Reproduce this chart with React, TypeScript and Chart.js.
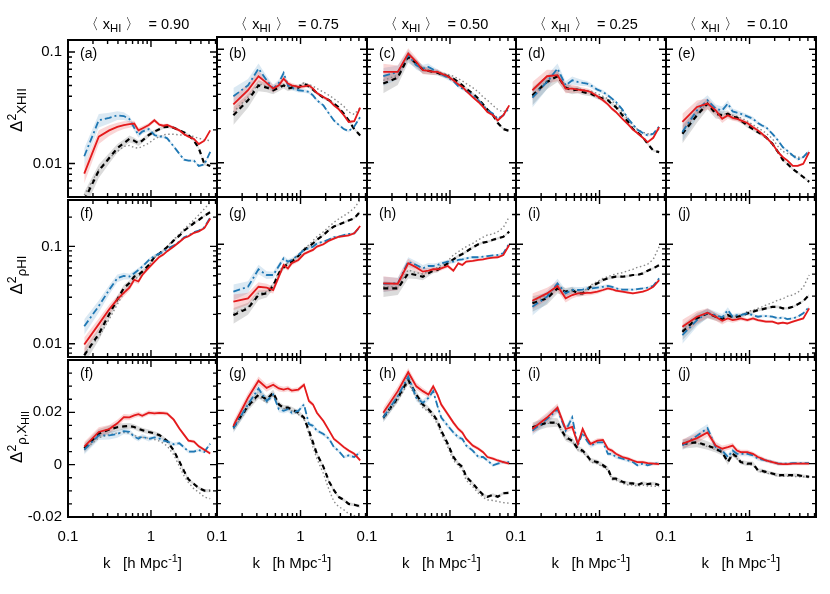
import React, { useEffect, useRef } from 'react';
import { Chart, registerables } from 'chart.js';

Chart.register(...registerables);

const FONT = "'Liberation Sans', Arial, Helvetica, sans-serif";

// wavenumbers k [h/Mpc]
const K = [0.157, 0.235, 0.314, 0.393, 0.471, 0.55, 0.628, 0.707, 0.785, 0.942, 1.1, 1.26, 1.41, 1.57, 1.88, 2.2, 2.51, 2.83, 3.3, 3.77, 4.4, 5.18];

const XHI = ['0.90', '0.75', '0.50', '0.25', '0.10'];
const TAGS = [
  ['(a)', '(b)', '(c)', '(d)', '(e)'],
  ['(f)', '(g)', '(h)', '(i)', '(j)'],
  ['(f)', '(g)', '(h)', '(i)', '(j)'],
];

const X_TICKS = [0.1, 1];
const Y_TICKS_LOG = [0.1, 0.01];
const Y_TICKS_LIN = [0.02, 0, -0.02];

// error band half widths
const BAND_REL = [0.18, 0.14, 0.11, 0.09, 0.08, 0.07, 0.06, 0.055, 0.05, 0.045, 0.04, 0.035, 0.035, 0.03, 0.03, 0.03, 0.025, 0.025, 0.025, 0.025, 0.025, 0.025];
const BAND_ABS = [0.0018, 0.0018, 0.0016, 0.0014, 0.0012, 0.0011, 0.001, 0.001, 0.0009, 0.0009, 0.0008, 0.0008, 0.0008, 0.0007, 0.0007, 0.0007, 0.0006, 0.0006, 0.0006, 0.0006, 0.0006, 0.0006];

// Row 1: Δ²_xHII
const xhii90Red = [0.0081, 0.0174, 0.0198, 0.0213, 0.0221, 0.0225, 0.0228, 0.0198, 0.0206, 0.0221, 0.0244, 0.0223, 0.0218, 0.0221, 0.0209, 0.0198, 0.0183, 0.0174, 0.0166, 0.0149, 0.016, 0.0198];
const xhii90Blue = [0.0116, 0.0244, 0.0256, 0.027, 0.0266, 0.025, 0.0209, 0.018, 0.0193, 0.0203, 0.018, 0.0174, 0.0174, 0.0168, 0.0142, 0.0122, 0.0108, 0.0106, 0.0106, 0.0095, 0.0098, 0.0127];
const xhii90Black = [0.0047, 0.0086, 0.0112, 0.0137, 0.0152, 0.0166, 0.016, 0.0152, 0.016, 0.018, 0.0193, 0.0203, 0.0211, 0.0213, 0.0209, 0.0198, 0.019, 0.018, 0.016, 0.0137, 0.0099, 0.0095];
const xhii90Gray = [0.0052, 0.0088, 0.0112, 0.0128, 0.0142, 0.0145, 0.0139, 0.0137, 0.0142, 0.0152, 0.0166, 0.0174, 0.018, 0.0183, 0.0183, 0.018, 0.018, 0.0178, 0.0174, 0.0168, 0.0163, 0.016];

const xhii75Red = [0.0327, 0.0435, 0.0578, 0.0505, 0.045, 0.048, 0.055, 0.0498, 0.048, 0.0465, 0.047, 0.048, 0.045, 0.0412, 0.0379, 0.0355, 0.032, 0.0299, 0.0262, 0.0229, 0.0233, 0.0306];
const xhii75Blue = [0.0385, 0.048, 0.0675, 0.0532, 0.045, 0.0505, 0.0617, 0.048, 0.0459, 0.0435, 0.043, 0.042, 0.0392, 0.0355, 0.032, 0.027, 0.0236, 0.0218, 0.0198, 0.019, 0.0209, 0.0253];
const xhii75Black = [0.0262, 0.0355, 0.048, 0.0459, 0.0435, 0.0459, 0.048, 0.045, 0.0459, 0.0459, 0.0498, 0.047, 0.044, 0.0412, 0.0374, 0.0355, 0.0332, 0.031, 0.027, 0.0236, 0.0198, 0.0174];
const xhii75Gray = [0.028, 0.0379, 0.0498, 0.0472, 0.0459, 0.0472, 0.049, 0.0472, 0.0472, 0.048, 0.0505, 0.049, 0.0472, 0.045, 0.042, 0.0392, 0.0367, 0.0343, 0.0314, 0.028, 0.0267, 0.0306];

const xhii50Red = [0.0631, 0.0631, 0.0916, 0.0773, 0.0653, 0.0644, 0.0631, 0.0631, 0.061, 0.0578, 0.0532, 0.049, 0.0465, 0.0429, 0.0379, 0.0343, 0.031, 0.028, 0.0262, 0.0236, 0.0262, 0.032];
const xhii50Blue = [0.0578, 0.0631, 0.0885, 0.0723, 0.0676, 0.0699, 0.0662, 0.0631, 0.0602, 0.0562, 0.0525, 0.0472, 0.045, 0.0429, 0.0392, 0.0355, 0.032, 0.029, 0.027, 0.0244, 0.0262, 0.0306];
const xhii50Black = [0.0498, 0.0562, 0.0855, 0.0748, 0.0662, 0.0644, 0.0631, 0.062, 0.0602, 0.0578, 0.055, 0.0515, 0.048, 0.045, 0.0406, 0.0367, 0.0326, 0.0294, 0.0262, 0.0224, 0.0198, 0.0191];
const xhii50Gray = [0.0532, 0.059, 0.0843, 0.0748, 0.0676, 0.0653, 0.0644, 0.0631, 0.062, 0.0602, 0.0578, 0.055, 0.0525, 0.0498, 0.0459, 0.042, 0.0379, 0.0355, 0.032, 0.0294, 0.028, 0.031];

const xhii25Red = [0.0435, 0.0578, 0.059, 0.045, 0.045, 0.0441, 0.0435, 0.0429, 0.042, 0.0385, 0.0355, 0.0327, 0.0299, 0.028, 0.0244, 0.0218, 0.0196, 0.0183, 0.0166, 0.0152, 0.0166, 0.0206];
const xhii25Blue = [0.0374, 0.0515, 0.0675, 0.048, 0.0532, 0.0515, 0.0505, 0.0498, 0.048, 0.0441, 0.042, 0.0392, 0.0367, 0.0343, 0.0294, 0.0244, 0.0218, 0.0196, 0.0183, 0.0174, 0.018, 0.0209];
const xhii25Black = [0.0392, 0.0515, 0.0578, 0.0459, 0.0435, 0.0441, 0.042, 0.0412, 0.0406, 0.0379, 0.0367, 0.0355, 0.0327, 0.031, 0.0262, 0.0229, 0.0198, 0.0186, 0.0168, 0.0147, 0.0128, 0.0124];
const xhii25Gray = [0.0385, 0.0532, 0.057, 0.0459, 0.045, 0.045, 0.0441, 0.0435, 0.0429, 0.0406, 0.0385, 0.0367, 0.0349, 0.0327, 0.028, 0.0239, 0.0213, 0.0198, 0.0186, 0.018, 0.018, 0.0198];

const xhii10Red = [0.0229, 0.031, 0.0332, 0.029, 0.0244, 0.0262, 0.0249, 0.0244, 0.0236, 0.0224, 0.0206, 0.0193, 0.018, 0.0168, 0.0147, 0.0124, 0.0112, 0.0105, 0.0094, 0.0094, 0.0098, 0.0124];
const xhii10Blue = [0.0187, 0.029, 0.0355, 0.0299, 0.029, 0.0332, 0.0283, 0.0276, 0.027, 0.0256, 0.0244, 0.0224, 0.0213, 0.0206, 0.018, 0.0157, 0.0137, 0.0128, 0.0116, 0.0107, 0.0112, 0.0128];
const xhii10Black = [0.018, 0.0262, 0.0332, 0.027, 0.0262, 0.027, 0.0253, 0.025, 0.0236, 0.0213, 0.0198, 0.0186, 0.0177, 0.0168, 0.0147, 0.0124, 0.0106, 0.0098, 0.0088, 0.0082, 0.0075, 0.0068];
const xhii10Gray = [0.0187, 0.027, 0.0337, 0.028, 0.0266, 0.0272, 0.0262, 0.0256, 0.0249, 0.0233, 0.0216, 0.0203, 0.0193, 0.0183, 0.0163, 0.0139, 0.0126, 0.0121, 0.0116, 0.0112, 0.0112, 0.0124];

// Row 2: Δ²_ρHI
const rho90Red = [0.0098, 0.0159, 0.0226, 0.0285, 0.0333, 0.0376, 0.0454, 0.0436, 0.0509, 0.0604, 0.0695, 0.078, 0.0824, 0.0894, 0.1, 0.111, 0.122, 0.127, 0.138, 0.143, 0.154, 0.194];
const rho90Blue = [0.0151, 0.0244, 0.0359, 0.0471, 0.0497, 0.049, 0.053, 0.0572, 0.0618, 0.0722, 0.0798, 0.0843, 0.0877, 0.0947, 0.102, 0.112, 0.124, 0.129, 0.14, 0.145, 0.157, 0.198];
const rho90Black = [0.0076, 0.0126, 0.0201, 0.0285, 0.0373, 0.042, 0.049, 0.0509, 0.0551, 0.0643, 0.078, 0.0843, 0.0911, 0.0985, 0.115, 0.129, 0.145, 0.157, 0.174, 0.187, 0.206, 0.225];
const rho90Gray = [0.0079, 0.0117, 0.0179, 0.0254, 0.0333, 0.0388, 0.0454, 0.049, 0.053, 0.063, 0.0764, 0.0843, 0.0911, 0.1, 0.118, 0.134, 0.151, 0.166, 0.187, 0.211, 0.243, 0.285];

const rho75Red = [0.0264, 0.0285, 0.0373, 0.0366, 0.0346, 0.0471, 0.0618, 0.0572, 0.0643, 0.0695, 0.0798, 0.0843, 0.0877, 0.0947, 0.1, 0.109, 0.114, 0.119, 0.121, 0.123, 0.129, 0.153];
const rho75Blue = [0.0333, 0.0373, 0.0559, 0.049, 0.049, 0.0604, 0.0722, 0.0668, 0.0695, 0.078, 0.0877, 0.0911, 0.0947, 0.102, 0.106, 0.112, 0.118, 0.119, 0.124, 0.127, 0.129, 0.151];
const rho75Black = [0.0193, 0.0226, 0.0308, 0.032, 0.038, 0.0509, 0.0585, 0.0643, 0.0668, 0.0762, 0.0877, 0.0947, 0.102, 0.111, 0.124, 0.14, 0.151, 0.157, 0.166, 0.174, 0.183, 0.214];
const rho75Gray = [0.0201, 0.0234, 0.032, 0.0333, 0.0398, 0.053, 0.0604, 0.0653, 0.0685, 0.078, 0.0911, 0.0985, 0.109, 0.119, 0.134, 0.151, 0.166, 0.179, 0.194, 0.209, 0.232, 0.281];

const rho50Red = [0.0404, 0.04, 0.0643, 0.0585, 0.053, 0.0542, 0.056, 0.056, 0.0572, 0.0604, 0.0542, 0.0643, 0.0618, 0.0668, 0.068, 0.0695, 0.0705, 0.0722, 0.0733, 0.074, 0.078, 0.0985];
const rho50Blue = [0.04, 0.0404, 0.0668, 0.0618, 0.0572, 0.0604, 0.0604, 0.0618, 0.0643, 0.0668, 0.0668, 0.0695, 0.0705, 0.0722, 0.074, 0.074, 0.075, 0.076, 0.0772, 0.078, 0.0811, 0.102];
const rho50Black = [0.0359, 0.0359, 0.0509, 0.049, 0.0471, 0.0509, 0.0542, 0.0551, 0.0585, 0.0643, 0.0705, 0.0762, 0.0798, 0.0843, 0.0932, 0.1, 0.104, 0.106, 0.111, 0.115, 0.119, 0.134];
const rho50Gray = [0.0373, 0.0373, 0.0551, 0.0517, 0.0502, 0.053, 0.0559, 0.0585, 0.0618, 0.068, 0.078, 0.0843, 0.0894, 0.0947, 0.102, 0.111, 0.118, 0.124, 0.127, 0.134, 0.148, 0.19];

const rho25Red = [0.027, 0.032, 0.038, 0.0285, 0.0308, 0.032, 0.032, 0.0323, 0.0323, 0.0333, 0.0346, 0.0359, 0.0352, 0.0341, 0.0333, 0.0326, 0.032, 0.0326, 0.0333, 0.0346, 0.0373, 0.0436];
const rho25Blue = [0.0234, 0.0296, 0.0404, 0.032, 0.0346, 0.0346, 0.0349, 0.0359, 0.0359, 0.0366, 0.0373, 0.0381, 0.0373, 0.0359, 0.0349, 0.0349, 0.0349, 0.0353, 0.0359, 0.0366, 0.0381, 0.0454];
const rho25Black = [0.0254, 0.0285, 0.0359, 0.0333, 0.0346, 0.032, 0.032, 0.0346, 0.0373, 0.0404, 0.0436, 0.0454, 0.0464, 0.0471, 0.0471, 0.0479, 0.049, 0.049, 0.0509, 0.0542, 0.0572, 0.0618];
const rho25Gray = [0.0264, 0.0308, 0.0373, 0.0333, 0.0339, 0.0326, 0.0326, 0.0359, 0.0388, 0.042, 0.0454, 0.0471, 0.049, 0.0502, 0.0517, 0.0542, 0.0559, 0.0585, 0.0604, 0.063, 0.0705, 0.0947];

const rho10Red = [0.0147, 0.0186, 0.0204, 0.0186, 0.0169, 0.0179, 0.0172, 0.0175, 0.0179, 0.0172, 0.0179, 0.0172, 0.0169, 0.0166, 0.0166, 0.0159, 0.0162, 0.0159, 0.0166, 0.0172, 0.0179, 0.0226];
const rho10Blue = [0.0121, 0.0172, 0.0204, 0.0193, 0.0183, 0.0217, 0.0186, 0.0193, 0.0193, 0.0201, 0.0193, 0.0186, 0.0189, 0.0189, 0.0186, 0.0179, 0.0183, 0.0176, 0.0179, 0.0186, 0.0201, 0.0234];
const rho10Black = [0.0131, 0.0179, 0.0201, 0.0186, 0.0175, 0.0193, 0.0183, 0.0186, 0.0189, 0.0201, 0.0209, 0.0217, 0.0221, 0.0226, 0.0234, 0.0234, 0.0226, 0.0226, 0.0234, 0.0248, 0.0268, 0.0308];
const rho10Gray = [0.0136, 0.0183, 0.0201, 0.0189, 0.0179, 0.0193, 0.0186, 0.0189, 0.0193, 0.0209, 0.0217, 0.0226, 0.0234, 0.0244, 0.0258, 0.0274, 0.0282, 0.0299, 0.0308, 0.0326, 0.0368, 0.049];

// Row 3: Δ²_ρ,xHII
const cross90Red = [0.0069, 0.0125, 0.0136, 0.0158, 0.0182, 0.0181, 0.0188, 0.0193, 0.0187, 0.0199, 0.0196, 0.0198, 0.0197, 0.0195, 0.0172, 0.0138, 0.0114, 0.0092, 0.0088, 0.007, 0.0057, 0.0043];
const cross90Blue = [0.0057, 0.0112, 0.0112, 0.0117, 0.0128, 0.0125, 0.0107, 0.0099, 0.0108, 0.0098, 0.0104, 0.01, 0.0092, 0.0089, 0.0078, 0.0082, 0.0066, 0.005, 0.005, 0.0056, 0.0049, 0.008];
const cross90Black = [0.0063, 0.0118, 0.0134, 0.0143, 0.0146, 0.0148, 0.0144, 0.0137, 0.0132, 0.0125, 0.012, 0.0113, 0.0102, 0.009, 0.0054, 0.0012, -0.0025, -0.0056, -0.0074, -0.0089, -0.0099, -0.0099];
const cross90Gray = [0.0057, 0.0103, 0.0115, 0.0121, 0.0123, 0.0121, 0.0112, 0.0106, 0.0105, 0.0101, 0.0096, 0.009, 0.0082, 0.0071, 0.0038, -0.0006, -0.0043, -0.0068, -0.0093, -0.0105, -0.0124, -0.013];

const cross75Red = [0.0142, 0.0247, 0.0311, 0.0284, 0.0296, 0.0282, 0.0278, 0.0282, 0.0274, 0.0278, 0.0296, 0.0235, 0.0222, 0.0191, 0.016, 0.0124, 0.0093, 0.008, 0.0062, 0.0049, 0.0037, 0.0012];
const cross75Blue = [0.0133, 0.0222, 0.0282, 0.0235, 0.0259, 0.0204, 0.0198, 0.0204, 0.0191, 0.0198, 0.0222, 0.0148, 0.0142, 0.0124, 0.0111, 0.0093, 0.0062, 0.0049, 0.0025, 0.0031, 0.0025, 0.0043];
const cross75Black = [0.0136, 0.0216, 0.0259, 0.0241, 0.0266, 0.0222, 0.021, 0.021, 0.0204, 0.0191, 0.0173, 0.0124, 0.008, 0.0037, -0.0012, -0.0068, -0.0099, -0.0124, -0.0136, -0.0151, -0.0154, -0.016];
const cross75Gray = [0.013, 0.021, 0.0253, 0.0228, 0.0259, 0.022, 0.0207, 0.0204, 0.0198, 0.0185, 0.0167, 0.0111, 0.0062, 0.0019, -0.0037, -0.0099, -0.0142, -0.016, -0.0173, -0.0188, -0.0195, -0.0204];

const cross50Red = [0.0191, 0.0272, 0.0343, 0.029, 0.0272, 0.0259, 0.029, 0.0259, 0.0222, 0.0185, 0.0154, 0.013, 0.0117, 0.0093, 0.0068, 0.0056, 0.0043, 0.0025, 0.0019, 0.0012, 0.0006, 0];
const cross50Blue = [0.0173, 0.0253, 0.0327, 0.0247, 0.0228, 0.0247, 0.0272, 0.0216, 0.0173, 0.0142, 0.0117, 0.0099, 0.0093, 0.0068, 0.0049, 0.0025, 0.0025, 0.0012, -0.0006, 0, 0.0006, 0.0006];
const cross50Black = [0.0173, 0.0247, 0.0315, 0.0259, 0.0222, 0.0204, 0.0185, 0.016, 0.0124, 0.0074, 0.0025, 0, -0.0012, -0.0049, -0.0074, -0.0099, -0.0117, -0.0124, -0.0117, -0.0124, -0.0111, -0.0109];
const cross50Gray = [0.0167, 0.0237, 0.0303, 0.0247, 0.021, 0.0195, 0.0175, 0.0148, 0.0111, 0.0062, 0.0012, -0.0006, -0.0025, -0.0062, -0.0086, -0.0111, -0.0126, -0.0136, -0.0138, -0.0142, -0.0146, -0.0148];

const cross25Red = [0.013, 0.0173, 0.021, 0.013, 0.0138, 0.0074, 0.013, 0.0096, 0.0074, 0.0086, 0.0089, 0.0056, 0.0049, 0.0037, 0.0025, 0.0019, 0.0012, 0.0006, 0.0006, 0.0002, 0, -0.0002];
const cross25Blue = [0.0124, 0.0167, 0.0204, 0.0124, 0.0173, 0.0068, 0.0117, 0.0086, 0.0068, 0.008, 0.008, 0.0037, 0.0037, 0.0025, 0.0019, 0.0012, 0.0006, -0.0006, 0, -0.0006, 0, 0.0002];
const cross25Black = [0.0136, 0.0154, 0.0154, 0.0099, 0.0086, 0.0056, 0.0049, 0.0031, 0.0012, 0.0006, -0.0006, -0.0019, -0.0056, -0.0056, -0.0068, -0.0074, -0.0074, -0.008, -0.0072, -0.0077, -0.0074, -0.008];
const cross25Gray = [0.0133, 0.0151, 0.0151, 0.0093, 0.0084, 0.0052, 0.0043, 0.0027, 0.0006, 0, -0.0012, -0.0025, -0.0059, -0.0062, -0.0074, -0.008, -0.008, -0.0084, -0.008, -0.0084, -0.0084, -0.0086];

const cross10Red = [0.0074, 0.0096, 0.0117, 0.0068, 0.0056, 0.0062, 0.0068, 0.0049, 0.0043, 0.0043, 0.0037, 0.0025, 0.0019, 0.0012, 0.0006, 0, -0.0002, -0.0002, 0, 0, 0, 0];
const cross10Blue = [0.0068, 0.0105, 0.0133, 0.0062, 0.0049, 0.0025, 0.0049, 0.0037, 0.0037, 0.0037, 0.0031, 0.0019, 0.0015, 0.0012, 0.0006, 0, 0, 0, 0.0002, 0.0002, 0.0002, 0.0002];
const cross10Black = [0.0074, 0.008, 0.0068, 0.0056, 0.0043, 0.0006, 0.0037, 0.0025, 0.0006, 0, 0, -0.0025, -0.0027, -0.0031, -0.0037, -0.0043, -0.0043, -0.0043, -0.0043, -0.0043, -0.0047, -0.0049];
const cross10Gray = [0.0072, 0.0077, 0.0064, 0.0052, 0.004, 0.001, 0.0031, 0.0019, 0.0002, -0.0002, -0.0006, -0.0027, -0.0031, -0.0035, -0.004, -0.0047, -0.0047, -0.0047, -0.0047, -0.0049, -0.0049, -0.0052];

const ROW_SERIES = [
  [
    [xhii90Red, xhii90Blue, xhii90Black, xhii90Gray],
    [xhii75Red, xhii75Blue, xhii75Black, xhii75Gray],
    [xhii50Red, xhii50Blue, xhii50Black, xhii50Gray],
    [xhii25Red, xhii25Blue, xhii25Black, xhii25Gray],
    [xhii10Red, xhii10Blue, xhii10Black, xhii10Gray],
  ],
  [
    [rho90Red, rho90Blue, rho90Black, rho90Gray],
    [rho75Red, rho75Blue, rho75Black, rho75Gray],
    [rho50Red, rho50Blue, rho50Black, rho50Gray],
    [rho25Red, rho25Blue, rho25Black, rho25Gray],
    [rho10Red, rho10Blue, rho10Black, rho10Gray],
  ],
  [
    [cross90Red, cross90Blue, cross90Black, cross90Gray],
    [cross75Red, cross75Blue, cross75Black, cross75Gray],
    [cross50Red, cross50Blue, cross50Black, cross50Gray],
    [cross25Red, cross25Blue, cross25Black, cross25Gray],
    [cross10Red, cross10Blue, cross10Black, cross10Gray],
  ],
];

const ROW_RANGE = [
  [0.005, 0.128],
  [0.0073, 0.3],
  [-0.02, 0.04],
];
const X_MIN = 0.1;
const X_MAX = 6.25;

// layout (px)
const PL = [68, 217, 367, 516, 666];
const PW = [149, 150, 149, 150, 150];
const PT = [37, 197, 357];
const PH = 160;
const ML = 46, MR = 12, MT = 12, MB = 34;
const ROW_TITLE_Y = [110, 275, 437];

const COL = {
  red: '#e41a1c',
  blue: '#1f78b4',
  black: '#000000',
  gray: '#8a8a8a',
  redBand: 'rgba(228,26,28,0.18)',
  blueBand: 'rgba(31,120,180,0.16)',
  blackBand: 'rgba(0,0,0,0.14)',
};

function near(v: number, t: number) {
  return t === 0 ? Math.abs(v) < 1e-9 : Math.abs(v / t - 1) < 1e-6;
}
function pickLabel(v: number, list: number[]) {
  const t = list.find((x) => near(v, x));
  return t === undefined ? null : String(t);
}

function logTickValues(min: number, max: number) {
  const out: { v: number; major: boolean }[] = [];
  for (let d = Math.floor(Math.log10(min)); d <= Math.floor(Math.log10(max)); d++) {
    for (let s = 1; s <= 9; s++) {
      const v = s * Math.pow(10, d);
      if (v >= min * 0.999999 && v <= max * 1.000001) out.push({ v, major: s === 1 });
    }
  }
  return out;
}
function linTickValues(min: number, max: number, step: number, majorStep: number) {
  const out: { v: number; major: boolean }[] = [];
  for (let i = Math.ceil(min / step - 1e-9); i <= Math.floor(max / step + 1e-9); i++) {
    const v = i * step;
    out.push({ v, major: Math.abs(v / majorStep - Math.round(v / majorStep)) < 1e-6 });
  }
  return out;
}

const framePlugin = {
  id: 'panelFrame',
  afterDatasetsDraw(chart: any) {
    const { ctx, chartArea: a } = chart;
    const xs = chart.scales.x;
    const ys = chart.scales.y;
    const xt = logTickValues(xs.min, xs.max);
    const yt = ys.type === 'logarithmic' ? logTickValues(ys.min, ys.max) : linTickValues(ys.min, ys.max, 0.005, 0.02);
    ctx.save();
    ctx.strokeStyle = '#000';
    ctx.lineWidth = 1.4;
    ctx.beginPath();
    for (const t of xt) {
      const p = xs.getPixelForValue(t.v);
      const len = t.major ? 7 : 4;
      ctx.moveTo(p, a.bottom);
      ctx.lineTo(p, a.bottom - len);
      ctx.moveTo(p, a.top);
      ctx.lineTo(p, a.top + len);
    }
    for (const t of yt) {
      const p = ys.getPixelForValue(t.v);
      const len = t.major ? 7 : 4;
      ctx.moveTo(a.left, p);
      ctx.lineTo(a.left + len, p);
      ctx.moveTo(a.right, p);
      ctx.lineTo(a.right - len, p);
    }
    ctx.stroke();
    ctx.lineWidth = 2;
    ctx.strokeRect(a.left, a.top, a.right - a.left, a.bottom - a.top);
    ctx.restore();
  },
};

function buildConfig(r: number, c: number): any {
  const isLog = r < 2;
  const [ymin, ymax] = ROW_RANGE[r];
  const [red, blue, black, gray] = ROW_SERIES[r][c];
  const toPts = (arr: number[]) => K.map((k, i) => ({ x: k, y: arr[i] }));
  const bandPts = (arr: number[], sign: number) =>
    K.map((k, i) => ({ x: k, y: isLog ? arr[i] * (1 + sign * BAND_REL[i]) : arr[i] + sign * BAND_ABS[i] }));
  const line = (arr: number[], color: string, width: number, dash: number[]) => ({
    data: toPts(arr),
    borderColor: color,
    borderWidth: width,
    borderDash: dash,
    pointRadius: 0,
    fill: false,
    tension: 0,
  });
  const band = (arr: number[], sign: number, color: string) => ({
    data: bandPts(arr, sign),
    borderColor: 'rgba(0,0,0,0)',
    borderWidth: 0,
    backgroundColor: color,
    pointRadius: 0,
    fill: sign > 0 ? '+1' : false,
    tension: 0,
  });
  const tickFont = { family: FONT, size: 15 };
  return {
    type: 'line',
    data: {
      datasets: [
        line(red, COL.red, 1.8, []),
        line(blue, COL.blue, 1.8, [7, 3, 2, 3]),
        line(black, COL.black, 2.2, [5, 4]),
        line(gray, COL.gray, 1.4, [1.5, 2.5]),
        band(red, 1, COL.redBand),
        band(red, -1, COL.redBand),
        band(blue, 1, COL.blueBand),
        band(blue, -1, COL.blueBand),
        band(black, 1, COL.blackBand),
        band(black, -1, COL.blackBand),
      ],
    },
    options: {
      animation: false,
      responsive: false,
      events: [],
      layout: { padding: { left: 0, right: MR, top: MT, bottom: 0 } },
      plugins: { legend: { display: false }, tooltip: { enabled: false }, title: { display: false } },
      scales: {
        x: {
          type: 'logarithmic',
          position: 'bottom',
          min: X_MIN,
          max: X_MAX,
          grid: { display: false, drawTicks: false },
          border: { display: false },
          ticks: {
            display: r === 2,
            autoSkip: false,
            maxRotation: 0,
            minRotation: 0,
            padding: 11,
            color: '#000',
            font: tickFont,
            callback: (v: any) => pickLabel(Number(v), X_TICKS),
          },
          afterFit: (s: any) => {
            s.height = MB;
          },
        },
        y: {
          type: isLog ? 'logarithmic' : 'linear',
          position: 'left',
          min: ymin,
          max: ymax,
          grid: { display: false, drawTicks: false },
          border: { display: false },
          ticks: {
            display: c === 0,
            autoSkip: false,
            padding: 6,
            color: '#000',
            font: tickFont,
            ...(isLog ? {} : { stepSize: 0.005 }),
            callback: (v: any) => pickLabel(Number(v), isLog ? Y_TICKS_LOG : Y_TICKS_LIN),
          },
          afterFit: (s: any) => {
            s.width = ML;
          },
        },
      },
    },
    plugins: [framePlugin],
  };
}

function Panel({ r, c }: { r: number; c: number }) {
  const ref = useRef<HTMLCanvasElement | null>(null);
  const w = ML + PW[c] + MR;
  const h = MT + PH + MB;
  useEffect(() => {
    if (!ref.current) return;
    const chart = new Chart(ref.current, buildConfig(r, c));
    return () => chart.destroy();
  }, [r, c]);
  return (
    <canvas
      ref={ref}
      width={w}
      height={h}
      style={{ position: 'absolute', left: PL[c] - ML, top: PT[r] - MT, width: w, height: h }}
    />
  );
}

const subStyle: React.CSSProperties = { fontSize: '0.78em', verticalAlign: '-0.32em', lineHeight: 0 };
const supStyle: React.CSSProperties = { fontSize: '0.72em', verticalAlign: '0.5em', lineHeight: 0 };

export default function App() {
  const panels: React.ReactNode[] = [];
  const tags: React.ReactNode[] = [];
  for (let r = 0; r < 3; r++) {
    for (let c = 0; c < 5; c++) {
      panels.push(<Panel key={`p${r}${c}`} r={r} c={c} />);
      tags.push(
        <div
          key={`t${r}${c}`}
          style={{ position: 'absolute', left: PL[c] + 12, top: PT[r] + 9, fontSize: 14, lineHeight: '14px' }}
        >
          {TAGS[r][c]}
        </div>
      );
    }
  }
  const headers = XHI.map((v, c) => (
    <div
      key={`h${c}`}
      style={{
        position: 'absolute',
        left: PL[c] + PW[c] / 2 - 6,
        top: 24,
        transform: 'translate(-50%, -50%)',
        fontSize: 14.5,
        whiteSpace: 'nowrap',
      }}
    >
      {'\u3008 x'}
      <span style={subStyle}>HI</span>
      {' \u3009 \u00a0= ' + v}
    </div>
  ));
  const xTitles = PL.map((l, c) => (
    <div
      key={`x${c}`}
      style={{
        position: 'absolute',
        left: l + PW[c] / 2,
        top: 562,
        transform: 'translate(-50%, -50%)',
        fontSize: 15,
        whiteSpace: 'nowrap',
      }}
    >
      {'k\u00a0\u00a0\u00a0[h Mpc'}
      <span style={supStyle}>-1</span>
      {']'}
    </div>
  ));
  const yTitleContent = [
    <>
      {'\u0394'}
      <span style={supStyle}>2</span>
      <span style={subStyle}>XHII</span>
    </>,
    <>
      {'\u0394'}
      <span style={supStyle}>2</span>
      <span style={subStyle}>{'\u03c1HI'}</span>
    </>,
    <>
      {'\u0394'}
      <span style={supStyle}>2</span>
      <span style={subStyle}>
        {'\u03c1,X'}
        <span style={{ fontSize: '0.8em', verticalAlign: '-0.3em', lineHeight: 0 }}>HII</span>
      </span>
    </>,
  ];
  const yTitles = ROW_TITLE_Y.map((y, r) => (
    <div
      key={`y${r}`}
      style={{
        position: 'absolute',
        left: 17,
        top: y,
        transform: 'translate(-50%, -50%) rotate(-90deg)',
        fontSize: 17,
        whiteSpace: 'nowrap',
      }}
    >
      {yTitleContent[r]}
    </div>
  ));
  return (
    <div
      style={{
        position: 'absolute',
        left: 0,
        top: 0,
        width: 830,
        height: 594,
        overflow: 'hidden',
        background: '#fff',
        fontFamily: FONT,
        color: '#000',
      }}
    >
      {panels}
      {tags}
      {headers}
      {xTitles}
      {yTitles}
    </div>
  );
}
